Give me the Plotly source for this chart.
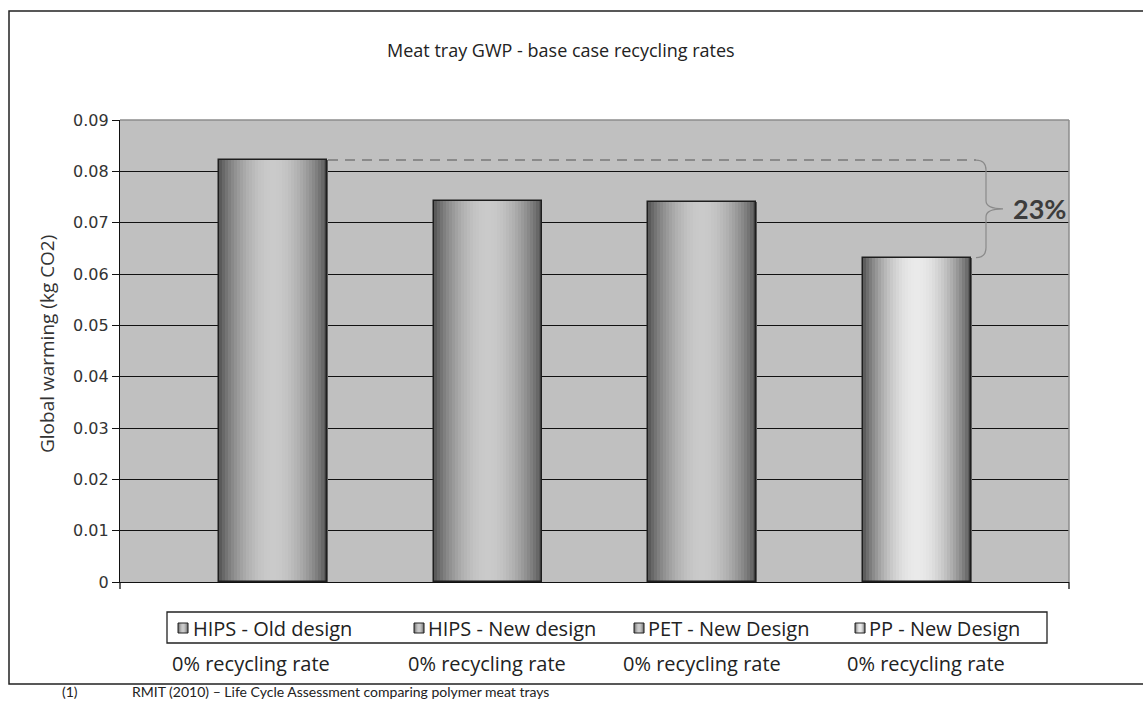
import numpy as np
import plotly.graph_objects as go

# ---------------- data ----------------
series = ["HIPS - Old design", "HIPS - New design", "PET - New Design", "PP - New Design"]
gwp = [0.0822, 0.0742, 0.0740, 0.0632]
sub_labels = ["0% recycling rate", "0% recycling rate", "0% recycling rate", "0% recycling rate"]
y_ticks = [0, 0.01, 0.02, 0.03, 0.04, 0.05, 0.06, 0.07, 0.08, 0.09]
y_tick_labels = ["0", "0.01", "0.02", "0.03", "0.04", "0.05", "0.06", "0.07", "0.08", "0.09"]
chart_title = "Meat tray GWP - base case recycling rates"
y_title = "Global warming (kg CO2)"
foot_num = "(1)"
foot_text = "RMIT (2010) \u2013 Life Cycle Assessment comparing polymer meat trays"

# ---------------- layout helpers ----------------
W, H = 1143, 702
L, R, T, B = 120, 1069, 120, 582


def px(x):
    return (x - L) / (R - L)


def py(y):
    return (B - y) / (B - T)


BW = 0.503          # bar width in category units
XR = [-0.7127, 3.708]
light = [202, 202, 202, 234]   # centre luminance of each bar's gradient
dark = 80
N = 36

fig = go.Figure()

# gradient strips
for j in range(N):
    t = (j + 0.5) / N
    s = np.sin(np.pi * t) ** 0.8
    cols = []
    for i in range(len(series)):
        v = int(round(dark + (light[i] - dark) * s))
        cols.append(f"rgb({v},{v},{v})")
    fig.add_trace(go.Bar(
        x=series, y=gwp, width=BW / N * 1.2, offset=-BW / 2 + j * BW / N,
        marker=dict(color=cols, line=dict(width=0)),
        showlegend=False, hoverinfo="skip"))

# outline
fig.add_trace(go.Bar(
    x=series, y=gwp, width=BW,
    marker=dict(color="rgba(0,0,0,0)", line=dict(color="#1e1e1e", width=1.5)),
    showlegend=False))

shapes = []
annotations = []

# plot area border (top/right gray)
shapes.append(dict(type="line", xref="paper", yref="paper", x0=0, x1=1, y0=1, y1=1,
                   line=dict(color="#8c8c8c", width=1.5), layer="above"))
shapes.append(dict(type="line", xref="paper", yref="paper", x0=1, x1=1, y0=0, y1=1,
                   line=dict(color="#8c8c8c", width=1.5), layer="above"))
# small ticks below the x axis at both ends
shapes.append(dict(type="line", xref="paper", yref="paper", x0=1, x1=1, y0=0, y1=py(589),
                   line=dict(color="#111", width=1.3)))
shapes.append(dict(type="line", xref="paper", yref="paper", x0=0, x1=0, y0=0, y1=py(589),
                   line=dict(color="#111", width=1.3)))

# outer frame
shapes.append(dict(type="rect", xref="paper", yref="paper", x0=px(9), x1=px(1160),
                   y0=py(684), y1=py(11), line=dict(color="#222", width=1.5)))

# dashed reference line from the top of the first bar
shapes.append(dict(type="line", xref="paper", yref="y", x0=px(328), x1=px(976),
                   y0=gwp[0], y1=gwp[0],
                   line=dict(color="#8a8a8a", width=2, dash="10px,7px"), layer="above"))

# brace between first and last bar
ytop, ybot = gwp[0], gwp[-1]
ymid = (ytop + ybot) / 2
du = 0.09 / (B - T)   # data units per pixel
xb, xt, xs = px(986), px(1003), px(976)
path = (f"M{xs},{ytop} Q{xb},{ytop} {xb},{ytop - 10 * du} "
        f"L{xb},{ymid + 8 * du} Q{xb},{ymid} {xt},{ymid} "
        f"Q{xb},{ymid} {xb},{ymid - 8 * du} "
        f"L{xb},{ybot + 10 * du} Q{xb},{ybot} {xs},{ybot}")
shapes.append(dict(type="path", xref="paper", yref="y", path=path,
                   line=dict(color="#8a8a8a", width=1.2), layer="above"))

pct = round((gwp[0] - gwp[-1]) / gwp[0] * 100)
annotations.append(dict(xref="paper", yref="y", x=px(1011), y=ymid, xanchor="left",
                        yanchor="middle", text=f"<b>{pct}%</b>", showarrow=False,
                        font=dict(family="Lato", size=27, color="#3c3c3c")))

# legend box
shapes.append(dict(type="rect", xref="paper", yref="paper", x0=px(167), x1=px(1047),
                   y0=py(643), y1=py(612), line=dict(color="#222", width=1.3)))
sym_x = [178, 414, 634, 855]
text_x = [191, 426, 646, 867]
sub_x = [170, 406, 621, 845]
for i, name in enumerate(series):
    for k in range(10):
        t = (k + 0.5) / 10
        v = int(round(dark + (light[i] - dark) * np.sin(np.pi * t) ** 0.8))
        shapes.append(dict(type="rect", xref="paper", yref="paper",
                           x0=px(sym_x[i] + k), x1=px(sym_x[i] + k + 1.1),
                           y0=py(633), y1=py(623), fillcolor=f"rgb({v},{v},{v})",
                           line=dict(width=0)))
    shapes.append(dict(type="rect", xref="paper", yref="paper",
                       x0=px(sym_x[i]), x1=px(sym_x[i] + 10), y0=py(633), y1=py(623),
                       line=dict(color="#222", width=1)))
    annotations.append(dict(xref="paper", yref="paper", x=px(text_x[i]), y=py(628),
                            xanchor="left", yanchor="middle", text=name, showarrow=False,
                            font=dict(family="Open Sans", size=20, color="#222")))
    annotations.append(dict(xref="paper", yref="paper", x=px(sub_x[i]), y=py(663),
                            xanchor="left", yanchor="middle", text=sub_labels[i],
                            showarrow=False, font=dict(family="Open Sans", size=20, color="#222")))

# title
annotations.append(dict(xref="paper", yref="paper", x=px(561), y=py(50), xanchor="center",
                        yanchor="middle", text=chart_title, showarrow=False,
                        font=dict(family="Open Sans", size=18, color="#222")))
# y title
annotations.append(dict(xref="paper", yref="paper", x=px(47), y=py(344), xanchor="center",
                        yanchor="middle", text=y_title, textangle=-90, showarrow=False,
                        font=dict(family="Open Sans", size=19, color="#333")))
# footnote
annotations.append(dict(xref="paper", yref="paper", x=px(60), y=py(691), xanchor="left",
                        yanchor="middle", text=foot_num, showarrow=False,
                        font=dict(family="Lato", size=14, color="#222")))
annotations.append(dict(xref="paper", yref="paper", x=px(130), y=py(691), xanchor="left",
                        yanchor="middle", text=foot_text, showarrow=False,
                        font=dict(family="Lato", size=14, color="#222")))

fig.update_layout(
    width=W, height=H,
    margin=dict(l=L, r=W - R, t=T, b=H - B),
    paper_bgcolor="white", plot_bgcolor="#c0c0c0",
    barmode="overlay", bargap=0,
    showlegend=False,
    shapes=shapes, annotations=annotations,
    xaxis=dict(type="category", range=XR, showticklabels=False, ticks="",
               showgrid=False, zeroline=False, showline=True, linecolor="#111",
               linewidth=1.3, fixedrange=True),
    yaxis=dict(range=[0, 0.09], tickvals=y_ticks, ticktext=y_tick_labels,
               showgrid=True, gridcolor="#111", gridwidth=1.3, zeroline=False,
               showline=True, linecolor="#111", linewidth=1.3,
               ticks="outside", ticklen=7, tickwidth=1.3, tickcolor="#111",
               tickfont=dict(family="DejaVu Sans", size=16, color="#333"),
               fixedrange=True),
)

fig.write_html("out.html")
